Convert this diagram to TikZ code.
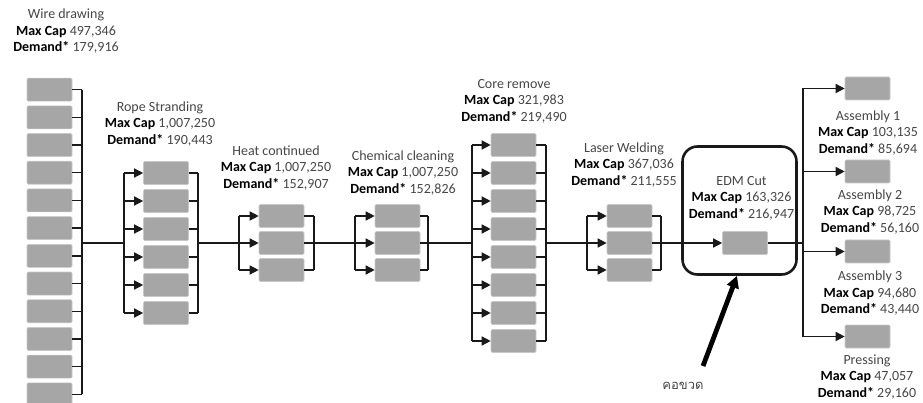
\documentclass[tikz,border=0pt]{standalone}
\usepackage{fontspec}
\setmainfont{Carlito}
\newfontfamily\thaifont[Script=Thai]{Loma}
\usetikzlibrary{arrows.meta}
\definecolor{boxgray}{RGB}{166,166,166}
\definecolor{boxedge}{RGB}{200,200,200}
\definecolor{txtgray}{RGB}{70,70,70}
\definecolor{linec}{RGB}{25,25,25}
\newcommand\MaxCapLbl{\textcolor{black}{\textbf{Max Cap}}}
\newcommand\DemandLbl{\textcolor{black}{\textbf{Demand*}}}
\begin{document}
\begin{tikzpicture}[x=1pt,y=-1pt,
  stage/.style={fill=boxgray, draw=boxedge, line width=0.6pt, rounded corners=1.2pt,
    minimum width=45pt, minimum height=23pt, inner sep=0pt},
  lbl/.style={align=center, text=txtgray, font=\fontsize{14}{16.5}\selectfont, inner sep=0pt},
  wire/.style={draw=linec, line width=1.4pt},
  flow/.style={wire, -{Triangle[length=9pt,width=9pt]}},
]
\useasboundingbox (0,0) rectangle (923,403);

% ---------- Wire drawing ----------
\node[lbl] (wdl) at (66,31.5) {Wire drawing\\\MaxCapLbl{} 497,346\\\DemandLbl{} 179,916};
\foreach \i in {1,...,12} \node[stage] (wd\i) at (49.5,{89.65+27.7*(\i-1)}) {};
\coordinate (wdT) at (82,89.65);
\coordinate (wdB) at (82,394.35);
\coordinate (wdO) at (82,243);
\draw[wire] (wdT) -- (wdB);
\foreach \i in {1,...,12} \draw[wire] (wd\i.east) -- (wd\i.east -| wdT);

% ---------- Rope Stranding ----------
\node[lbl] (rpl) at (160,124) {Rope Stranding\\\MaxCapLbl{} 1,007,250\\\DemandLbl{} 190,443};
\foreach \i in {1,...,6} \node[stage] (rp\i) at (166,{173+28*(\i-1)}) {};
\coordinate (rpI) at (124,243);
\coordinate (rpO) at (198,243);
\draw[wire] (wdO) -- (rpI);
\draw[wire] (rp1.west -| rpI) -- (rp6.west -| rpI);
\foreach \i in {1,...,6} \draw[flow] (rp\i.west -| rpI) -- (rp\i.west);
\foreach \i in {1,...,6} \draw[wire] (rp\i.east) -- (rp\i.east -| rpO);
\draw[wire] (rp1.east -| rpO) -- (rp6.east -| rpO);

% ---------- Heat continued ----------
\node[lbl] (htl) at (276,168) {Heat continued\\\MaxCapLbl{} 1,007,250\\\DemandLbl{} 152,907};
\foreach \i in {1,...,3} \node[stage] (ht\i) at (281.5,{216+27*(\i-1)}) {};
\coordinate (htI) at (239,243);
\coordinate (htO) at (314,243);
\draw[wire] (rpO) -- (htI);
\draw[wire] (ht1.west -| htI) -- (ht3.west -| htI);
\foreach \i in {1,...,3} \draw[flow] (ht\i.west -| htI) -- (ht\i.west);
\foreach \i in {1,...,3} \draw[wire] (ht\i.east) -- (ht\i.east -| htO);
\draw[wire] (ht1.east -| htO) -- (ht3.east -| htO);

% ---------- Chemical cleaning ----------
\node[lbl] (chl) at (403,173) {Chemical cleaning\\\MaxCapLbl{} 1,007,250\\\DemandLbl{} 152,826};
\foreach \i in {1,...,3} \node[stage] (ch\i) at (397.5,{216+27*(\i-1)}) {};
\coordinate (chI) at (355,243);
\coordinate (chO) at (428,243);
\draw[wire] (htO) -- (chI);
\draw[wire] (ch1.west -| chI) -- (ch3.west -| chI);
\foreach \i in {1,...,3} \draw[flow] (ch\i.west -| chI) -- (ch\i.west);
\foreach \i in {1,...,3} \draw[wire] (ch\i.east) -- (ch\i.east -| chO);
\draw[wire] (ch1.east -| chO) -- (ch3.east -| chO);

% ---------- Core remove ----------
\node[lbl] (crl) at (514,101) {Core remove\\\MaxCapLbl{} 321,983\\\DemandLbl{} 219,490};
\foreach \i in {1,...,8} \node[stage] (cr\i) at (513.5,{145+28*(\i-1)}) {};
\coordinate (crI) at (472,243);
\coordinate (crO) at (546,243);
\draw[wire] (chO) -- (crI);
\draw[wire] (cr1.west -| crI) -- (cr8.west -| crI);
\foreach \i in {1,...,8} \draw[flow] (cr\i.west -| crI) -- (cr\i.west);
\foreach \i in {1,...,8} \draw[wire] (cr\i.east) -- (cr\i.east -| crO);
\draw[wire] (cr1.east -| crO) -- (cr8.east -| crO);

% ---------- Laser Welding ----------
\node[lbl] (lwl) at (624,165) {Laser Welding\\\MaxCapLbl{} 367,036\\\DemandLbl{} 211,555};
\foreach \i in {1,...,3} \node[stage] (lw\i) at (629.5,{216+27*(\i-1)}) {};
\coordinate (lwI) at (587,243);
\coordinate (lwO) at (661,243);
\draw[wire] (crO) -- (lwI);
\draw[wire] (lw1.west -| lwI) -- (lw3.west -| lwI);
\foreach \i in {1,...,3} \draw[flow] (lw\i.west -| lwI) -- (lw\i.west);
\foreach \i in {1,...,3} \draw[wire] (lw\i.east) -- (lw\i.east -| lwO);
\draw[wire] (lw1.east -| lwO) -- (lw3.east -| lwO);

% ---------- EDM Cut ----------
\node[draw=linec, line width=2.6pt, rounded corners=15pt, minimum width=114pt,
      minimum height=128pt, inner sep=0pt] (edmframe) at (739.5,210.5) {};
\node[lbl] (edml) at (741.5,198) {EDM Cut\\\MaxCapLbl{} 163,326\\\DemandLbl{} 216,947};
\node[stage] (edm) at (745,243) {};
\draw[flow] (lwO) -- (edm.west);

% ---------- Final stages ----------
\node[stage] (as1) at (867.5,88.5) {};
\node[stage] (as2) at (867.5,171.5) {};
\node[stage] (as3) at (867.5,251.5) {};
\node[stage] (prs) at (867.5,336.5) {};
\node[lbl] (as1l) at (868,133) {Assembly 1\\\MaxCapLbl{} 103,135\\\DemandLbl{} 85,694};
\node[lbl] (as2l) at (870,212) {Assembly 2\\\MaxCapLbl{} 98,725\\\DemandLbl{} 56,160};
\node[lbl] (as3l) at (870,293.5) {Assembly 3\\\MaxCapLbl{} 94,680\\\DemandLbl{} 43,440};
\node[lbl] (prsl) at (867,377) {Pressing\\\MaxCapLbl{} 47,057\\\DemandLbl{} 29,160};
\coordinate (rb) at (803,243);
\draw[wire] (edm.east) -- (rb);
\draw[wire] (as1.west -| rb) -- (prs.west -| rb);
\foreach \n in {as1,as2,as3,prs} \draw[flow] (\n.west -| rb) -- (\n.west);

% ---------- Bottleneck ----------
\node[text=txtgray, font=\thaifont\fontsize{13}{15}\selectfont, inner sep=0pt] (bnl) at (683,386) {คอขวด};
\coordinate (bn) at (703,366);
\draw[draw=black, line width=4.8pt, -{Triangle[length=12pt,width=12pt]}] (bn) -- ([xshift=-2.5pt]edmframe.south);
\end{tikzpicture}
\end{document}
